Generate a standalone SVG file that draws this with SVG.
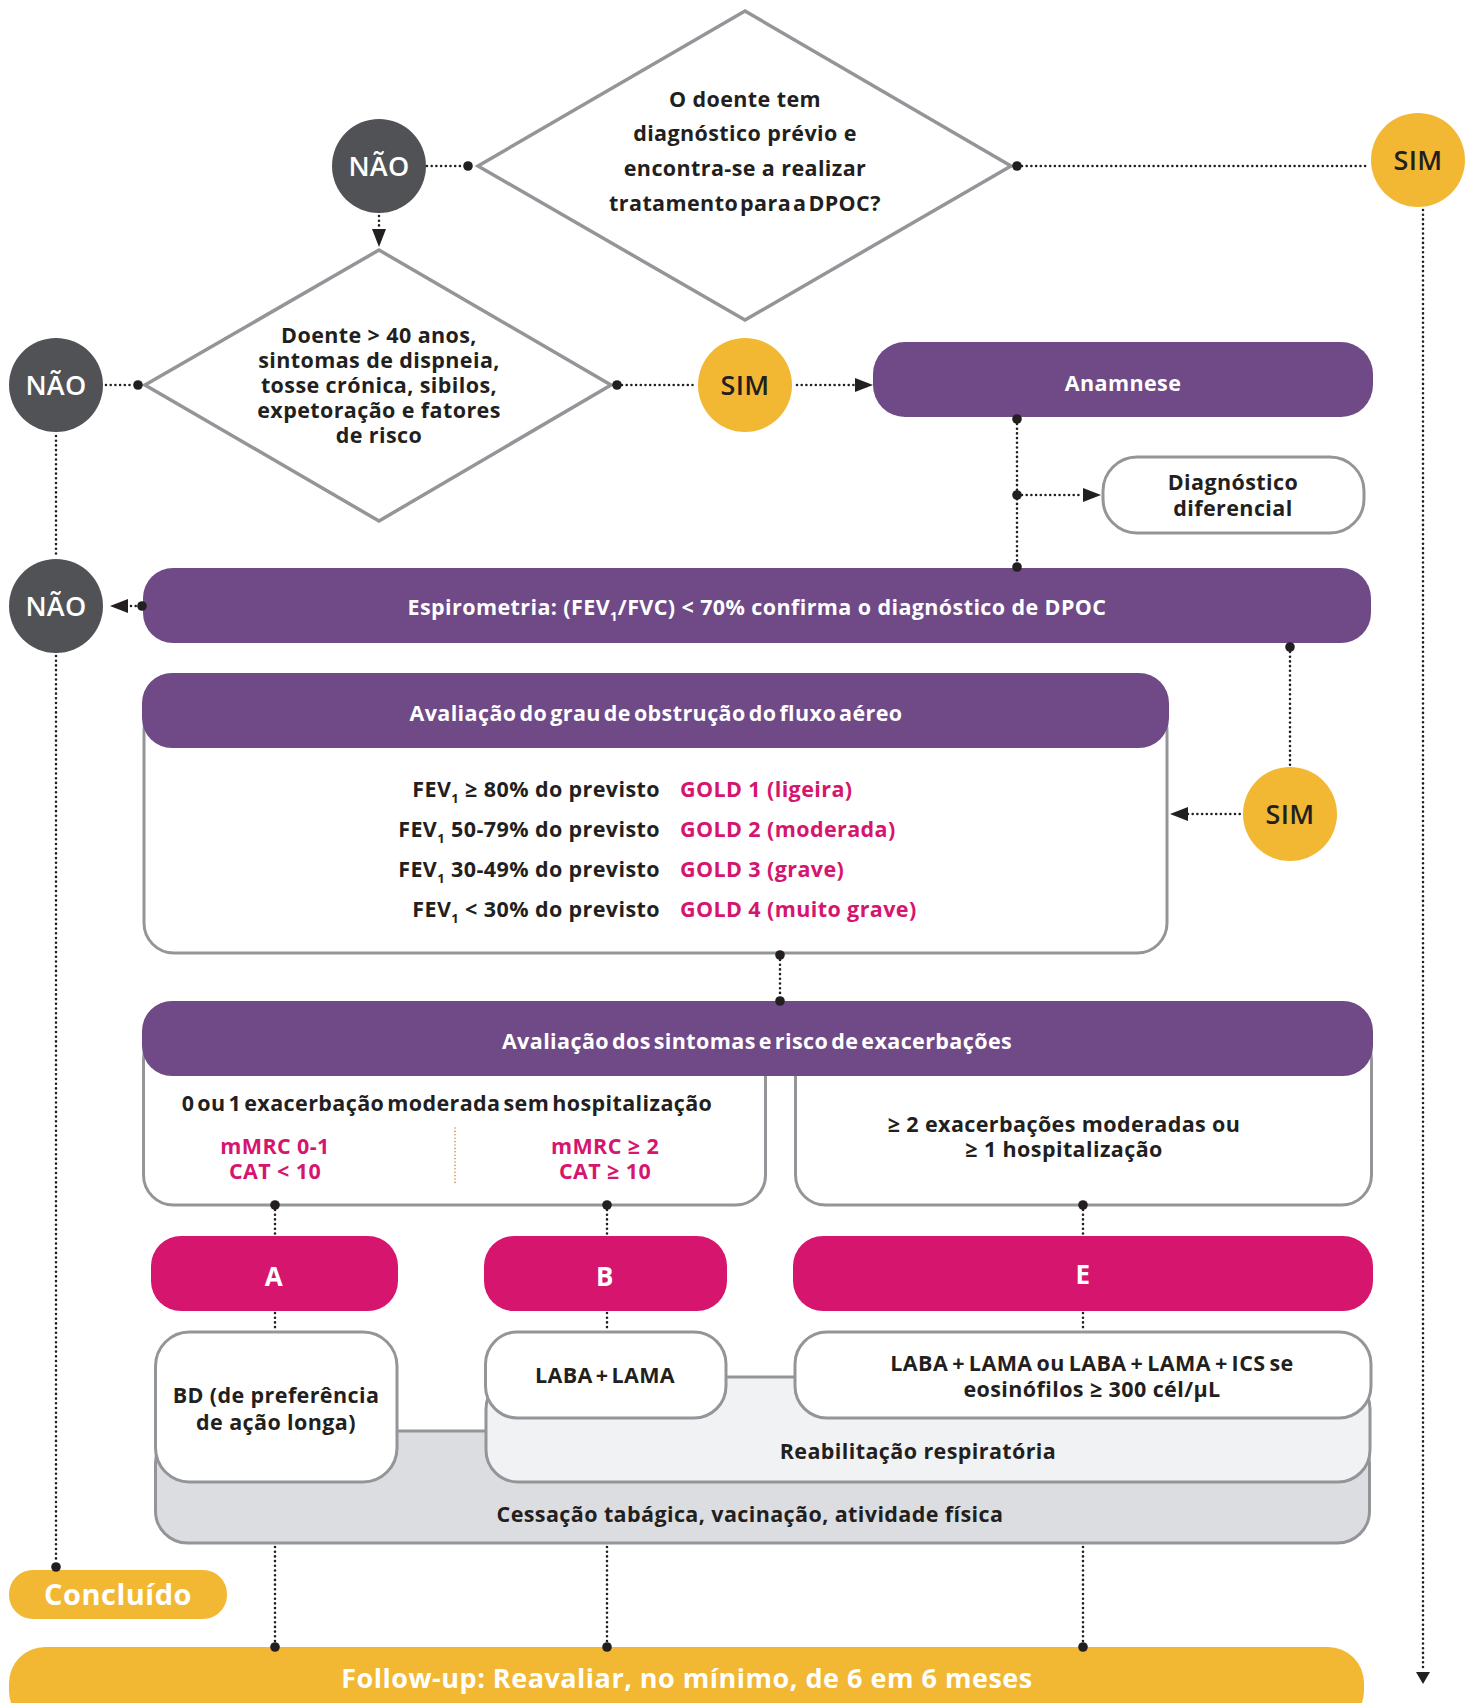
<svg xmlns="http://www.w3.org/2000/svg" width="1469" height="1703" viewBox="0 0 1469 1703">
<style>
text{font-family:"Open Sans","Noto Sans","Liberation Sans",sans-serif;font-weight:700;font-size:21.5px;letter-spacing:0.4px;fill:#231f20;text-anchor:middle}
.w{fill:#ffffff}
.m{fill:#d6156f}
.circ{font-size:27px;font-weight:600;letter-spacing:0.3px}
.abe{font-size:26px}
.big{font-size:27px;letter-spacing:0.5px}
.conc{font-size:29px;letter-spacing:0.5px}
.sub{font-size:13px}
.end{text-anchor:end}
.start{text-anchor:start}
.dot{fill:#231f20}
.dl{fill:none;stroke:#231f20;stroke-width:2.6;stroke-dasharray:0 4.7;stroke-linecap:round}
.ah{fill:#231f20}
.box{fill:#ffffff;stroke:#939598;stroke-width:3}
.dia{fill:#ffffff;stroke:#939598;stroke-width:3.5;stroke-linejoin:miter}
.pur{fill:#6f4a87}
.mag{fill:#d6156f}
.yel{fill:#f2b833}
.gry{fill:#515255}
</style>

<g id="q1">
  <polygon class="dia" points="745,11 1011,166 745,320 478,166"/>
  <text x="745" y="107">O doente tem</text>
  <text x="745" y="141">diagnóstico prévio e</text>
  <text x="745" y="176">encontra-se a realizar</text>
  <text x="745" y="211" word-spacing="-4">tratamento para a DPOC?</text>
</g>

<g id="nao1">
  <circle class="gry" cx="379" cy="166" r="47"/>
  <text class="w circ" x="379" y="176">NÃO</text>
</g>

<g id="sim1">
  <circle class="yel" cx="1418" cy="160" r="47"/>
  <text class="circ" x="1418" y="170">SIM</text>
</g>

<g id="q2">
  <polygon class="dia" points="379,250 611,385 379,521 145,385"/>
  <text x="379" y="343">Doente &gt; 40 anos,</text>
  <text x="379" y="368">sintomas de dispneia,</text>
  <text x="379" y="393">tosse crónica, sibilos,</text>
  <text x="379" y="418">expetoração e fatores</text>
  <text x="379" y="443">de risco</text>
</g>

<g id="nao2">
  <circle class="gry" cx="56" cy="385" r="47"/>
  <text class="w circ" x="56" y="395">NÃO</text>
</g>

<g id="sim2">
  <circle class="yel" cx="745" cy="385" r="47"/>
  <text class="circ" x="745" y="395">SIM</text>
</g>

<g id="anamnese">
  <rect class="pur" x="873" y="342" width="500" height="75" rx="32"/>
  <text class="w" x="1123" y="391">Anamnese</text>
</g>

<g id="diferencial">
  <rect class="box" x="1103" y="457" width="261" height="76" rx="34"/>
  <text x="1233" y="490">Diagnóstico</text>
  <text x="1233" y="516">diferencial</text>
</g>

<g id="nao3">
  <circle class="gry" cx="56" cy="606" r="47"/>
  <text class="w circ" x="56" y="616">NÃO</text>
</g>

<g id="espirometria">
  <rect class="pur" x="143" y="568" width="1228" height="75" rx="30"/>
  <text class="w" x="757" y="615">Espirometria: (FEV<tspan class="sub" dy="6">1</tspan><tspan dy="-6">/FVC) &lt; 70% confirma o diagnóstico de DPOC</tspan></text>
</g>

<g id="sim3">
  <circle class="yel" cx="1290" cy="814" r="47"/>
  <text class="circ" x="1290" y="824">SIM</text>
</g>

<g id="grau">
  <rect class="box" x="144" y="700" width="1023" height="253" rx="30"/>
  <rect class="pur" x="142" y="673" width="1027" height="75" rx="30"/>
  <text class="w" x="656" y="721" word-spacing="-3">Avaliação do grau de obstrução do fluxo aéreo</text>
  <text class="end" x="660" y="797">FEV<tspan class="sub" dy="6">1</tspan><tspan dy="-6"> ≥ 80% do previsto</tspan></text>
  <text class="end" x="660" y="837">FEV<tspan class="sub" dy="6">1</tspan><tspan dy="-6"> 50-79% do previsto</tspan></text>
  <text class="end" x="660" y="877">FEV<tspan class="sub" dy="6">1</tspan><tspan dy="-6"> 30-49% do previsto</tspan></text>
  <text class="end" x="660" y="917">FEV<tspan class="sub" dy="6">1</tspan><tspan dy="-6"> &lt; 30% do previsto</tspan></text>
  <text class="m start" x="680" y="797">GOLD 1 (ligeira)</text>
  <text class="m start" x="680" y="837">GOLD 2 (moderada)</text>
  <text class="m start" x="680" y="877">GOLD 3 (grave)</text>
  <text class="m start" x="680" y="917">GOLD 4 (muito grave)</text>
</g>

<g id="sintomas">
  <rect class="box" x="143.5" y="1030" width="622" height="175" rx="30"/>
  <rect class="box" x="795.5" y="1030" width="576" height="175" rx="30"/>
  <rect class="pur" x="142" y="1001" width="1231" height="75" rx="30"/>
  <text class="w" x="757" y="1049" word-spacing="-3">Avaliação dos sintomas e risco de exacerbações</text>
  <text x="447" y="1111" word-spacing="-3">0 ou 1 exacerbação moderada sem hospitalização</text>
  <text class="m" x="275" y="1154">mMRC 0-1</text>
  <text class="m" x="275" y="1179">CAT &lt; 10</text>
  <line x1="455" y1="1128" x2="455" y2="1184" stroke="#d4883a" stroke-width="1.6" stroke-dasharray="0 3.4" stroke-linecap="round"/>
  <text class="m" x="605" y="1154">mMRC ≥ 2</text>
  <text class="m" x="605" y="1179">CAT ≥ 10</text>
  <text x="1064" y="1132">≥ 2 exacerbações moderadas ou</text>
  <text x="1064" y="1157">≥ 1 hospitalização</text>
</g>

<g id="grupoA">
  <rect class="mag" x="151" y="1236" width="247" height="75" rx="30"/>
  <text class="w abe" x="274" y="1286">A</text>
</g>
<g id="grupoB">
  <rect class="mag" x="484" y="1236" width="243" height="75" rx="30"/>
  <text class="w abe" x="605" y="1286">B</text>
</g>
<g id="grupoE">
  <rect class="mag" x="793" y="1236" width="580" height="75" rx="30"/>
  <text class="w abe" x="1083" y="1284">E</text>
</g>

<g id="cessacao">
  <rect class="box" x="155.5" y="1431" width="1214" height="112" rx="32" style="fill:#dcdde0"/>
  <text x="750" y="1522">Cessação tabágica, vacinação, atividade física</text>
</g>

<g id="reabilitacao">
  <rect class="box" x="486" y="1377" width="884" height="105" rx="32" style="fill:#f1f2f4"/>
  <text x="918" y="1459">Reabilitação respiratória</text>
</g>

<g id="tratA">
  <rect class="box" x="155.5" y="1332" width="241.5" height="150" rx="34"/>
  <text x="276" y="1403">BD (de preferência</text>
  <text x="276" y="1430">de ação longa)</text>
</g>

<g id="tratB">
  <rect class="box" x="485.5" y="1332" width="240.5" height="86" rx="32"/>
  <text x="605" y="1383" word-spacing="-3">LABA + LAMA</text>
</g>

<g id="tratE">
  <rect class="box" x="795" y="1332" width="576" height="86" rx="32"/>
  <text x="1092" y="1371" word-spacing="-2">LABA + LAMA ou LABA + LAMA + ICS se</text>
  <text x="1092" y="1397">eosinófilos ≥ 300 cél/µL</text>
</g>

<g id="concluido">
  <rect class="yel" x="9" y="1570" width="218" height="49" rx="24"/>
  <text class="w conc" x="118" y="1605">Concluído</text>
</g>

<g id="followup">
  <rect class="yel" x="9" y="1647" width="1355" height="80" rx="36"/>
  <text class="w big" x="687" y="1688">Follow-up: Reavaliar, no mínimo, de 6 em 6 meses</text>
</g>

<g id="connectors">
  <line class="dl" x1="427" y1="166" x2="464" y2="166"/>
  <circle class="dot" cx="468" cy="166" r="4.8"/>
  <line class="dl" x1="379" y1="216" x2="379" y2="229"/>
  <polygon class="ah" points="372,229 386,229 379,247"/>
  <circle class="dot" cx="1017" cy="166" r="4.8"/>
  <line class="dl" x1="1022" y1="166" x2="1369" y2="166"/>
  <line class="dl" x1="1423" y1="210" x2="1423" y2="1670"/>
  <polygon class="ah" points="1416,1672 1430,1672 1423,1684"/>
  <line class="dl" x1="106" y1="385" x2="134" y2="385"/>
  <circle class="dot" cx="138" cy="385" r="4.8"/>
  <circle class="dot" cx="617" cy="385" r="4.8"/>
  <line class="dl" x1="622" y1="385" x2="697" y2="385"/>
  <line class="dl" x1="797" y1="385" x2="855" y2="385"/>
  <polygon class="ah" points="855,378 855,392 873,385"/>
  <line class="dl" x1="56" y1="436" x2="56" y2="557"/>
  <line class="dl" x1="56" y1="656" x2="56" y2="1563"/>
  <circle class="dot" cx="56" cy="1567" r="4.8"/>
  <circle class="dot" cx="1017" cy="419" r="4.8"/>
  <line class="dl" x1="1017" y1="424" x2="1017" y2="563"/>
  <circle class="dot" cx="1017" cy="495" r="4.8"/>
  <line class="dl" x1="1022" y1="495" x2="1083" y2="495"/>
  <polygon class="ah" points="1083,488 1083,502 1101,495"/>
  <circle class="dot" cx="1017" cy="567" r="4.8"/>
  <circle class="dot" cx="142" cy="606" r="4.8"/>
  <line class="dl" x1="131" y1="606" x2="137" y2="606"/>
  <polygon class="ah" points="128,599 128,613 110,606"/>
  <circle class="dot" cx="1290" cy="647" r="4.8"/>
  <line class="dl" x1="1290" y1="652" x2="1290" y2="765"/>
  <line class="dl" x1="1188" y1="814" x2="1241" y2="814"/>
  <polygon class="ah" points="1188,807 1188,821 1170,814"/>
  <circle class="dot" cx="780" cy="955" r="4.8"/>
  <line class="dl" x1="780" y1="960" x2="780" y2="996"/>
  <circle class="dot" cx="780" cy="1001" r="4.8"/>
  <circle class="dot" cx="275" cy="1205" r="4.8"/>
  <line class="dl" x1="275" y1="1210" x2="275" y2="1235"/>
  <circle class="dot" cx="607" cy="1205" r="4.8"/>
  <line class="dl" x1="607" y1="1210" x2="607" y2="1235"/>
  <circle class="dot" cx="1083" cy="1205" r="4.8"/>
  <line class="dl" x1="1083" y1="1210" x2="1083" y2="1235"/>
  <line class="dl" x1="275" y1="1313" x2="275" y2="1330"/>
  <line class="dl" x1="607" y1="1313" x2="607" y2="1330"/>
  <line class="dl" x1="1083" y1="1313" x2="1083" y2="1330"/>
  <line class="dl" x1="275" y1="1547" x2="275" y2="1642"/>
  <circle class="dot" cx="275" cy="1647" r="4.8"/>
  <line class="dl" x1="607" y1="1547" x2="607" y2="1642"/>
  <circle class="dot" cx="607" cy="1647" r="4.8"/>
  <line class="dl" x1="1083" y1="1547" x2="1083" y2="1642"/>
  <circle class="dot" cx="1083" cy="1647" r="4.8"/>
</g>
</svg>
